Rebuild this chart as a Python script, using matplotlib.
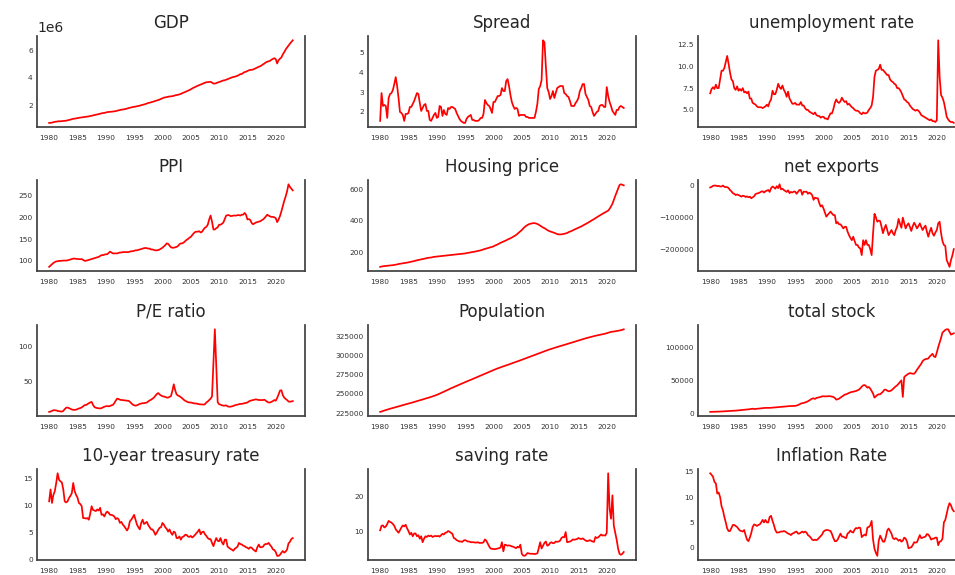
import numpy as np
import pandas as pd
import matplotlib
matplotlib.use('Agg')
import matplotlib.pyplot as plt
import matplotlib.dates as mdates

# quarterly observations, 1980Q1 .. 2023Q1
quarters = pd.date_range('1980-01-01', periods=173, freq='QS')
year_ticks = pd.to_datetime([f'{y}-01-01' for y in range(1980, 2021, 5)])

gdp = [  # units of 1e6
    0.70, 0.70, 0.72, 0.75, 0.78, 0.79, 0.81, 0.82,
    0.82, 0.83, 0.84, 0.85, 0.86, 0.89, 0.91, 0.94,
    0.97, 1.00, 1.01, 1.03, 1.05, 1.07, 1.09, 1.10,
    1.12, 1.13, 1.15, 1.16, 1.18, 1.20, 1.22, 1.25,
    1.27, 1.30, 1.32, 1.34, 1.37, 1.40, 1.42, 1.43,
    1.46, 1.49, 1.50, 1.51, 1.52, 1.53, 1.55, 1.56,
    1.59, 1.62, 1.64, 1.67, 1.68, 1.70, 1.72, 1.75,
    1.78, 1.81, 1.83, 1.86, 1.88, 1.89, 1.92, 1.94,
    1.96, 2.00, 2.02, 2.05, 2.08, 2.12, 2.16, 2.18,
    2.21, 2.24, 2.27, 2.31, 2.34, 2.37, 2.41, 2.46,
    2.50, 2.55, 2.57, 2.59, 2.61, 2.64, 2.64, 2.66,
    2.68, 2.72, 2.74, 2.76, 2.79, 2.82, 2.88, 2.92,
    2.96, 3.01, 3.06, 3.10, 3.16, 3.21, 3.28, 3.32,
    3.38, 3.43, 3.46, 3.51, 3.55, 3.60, 3.64, 3.68,
    3.68, 3.70, 3.71, 3.65, 3.58, 3.58, 3.61, 3.66,
    3.69, 3.73, 3.77, 3.81, 3.82, 3.87, 3.90, 3.95,
    3.99, 4.03, 4.06, 4.08, 4.12, 4.15, 4.21, 4.27,
    4.28, 4.36, 4.42, 4.45, 4.50, 4.55, 4.58, 4.59,
    4.61, 4.66, 4.71, 4.76, 4.81, 4.85, 4.91, 4.99,
    5.05, 5.13, 5.18, 5.21, 5.25, 5.33, 5.39, 5.44,
    5.37, 5.05, 5.30, 5.40, 5.50, 5.72, 5.88, 6.08,
    6.22, 6.36, 6.50, 6.62, 6.75,
]

spread = [
    1.55, 2.95, 2.30, 2.35, 2.30, 1.70, 2.70, 2.90,
    2.95, 3.10, 3.40, 3.75, 3.30, 2.70, 2.00, 1.95,
    1.85, 1.55, 1.90, 1.90, 1.95, 2.25, 2.25, 2.40,
    2.55, 2.75, 2.95, 2.90, 2.45, 2.05, 2.20, 2.35,
    2.40, 2.05, 2.05, 1.60, 1.55, 1.70, 1.85, 1.95,
    1.70, 1.75, 2.30, 2.25, 1.80, 2.10, 1.90, 1.85,
    2.20, 2.15, 2.25, 2.25, 2.20, 2.15, 1.95, 1.80,
    1.65, 1.55, 1.50, 1.45, 1.45, 1.65, 1.75, 1.80,
    1.85, 1.60, 1.60, 1.55, 1.55, 1.55, 1.60, 1.70,
    1.70, 1.90, 2.60, 2.45, 2.35, 2.30, 2.15, 1.95,
    2.50, 2.50, 2.65, 2.80, 2.80, 2.85, 3.20, 3.05,
    3.05, 3.55, 3.65, 3.30, 2.85, 2.50, 2.30, 2.15,
    2.20, 2.15, 1.80, 1.85, 1.85, 1.85, 1.85, 1.75,
    1.75, 1.70, 1.70, 1.70, 1.70, 1.70, 2.00, 2.40,
    3.15, 3.30, 3.60, 5.60, 5.50, 4.30, 3.20, 3.00,
    2.65, 2.80, 3.05, 2.70, 2.95, 3.20, 3.25, 3.30,
    3.30, 3.30, 2.95, 2.90, 2.80, 2.75, 2.55, 2.30,
    2.30, 2.30, 2.45, 2.55, 2.70, 3.05, 3.20, 3.40,
    3.40, 2.90, 2.75, 2.60, 2.30, 2.25, 2.00, 1.80,
    1.90, 2.00, 2.05, 2.30, 2.35, 2.35, 2.25, 2.25,
    3.25, 2.80, 2.50, 2.30, 2.05, 1.95, 1.85, 2.10,
    2.10, 2.25, 2.30, 2.25, 2.20,
]

unemployment = [
    6.9, 7.4, 7.6, 7.4, 7.9, 7.5, 7.5, 8.5,
    9.5, 9.5, 9.8, 10.5, 11.2, 10.3, 9.3, 8.5,
    8.3, 7.5, 7.3, 7.7, 7.2, 7.4, 7.2, 7.5,
    7.0, 7.1, 6.9, 7.1, 6.3, 6.3, 5.8, 5.7,
    5.6, 5.4, 5.3, 5.3, 5.3, 5.2, 5.3, 5.4,
    5.6, 5.4, 5.9, 6.2, 7.2, 6.8, 6.8, 7.3,
    8.0, 7.6, 7.4, 7.8, 7.3, 7.0, 6.5, 7.1,
    6.3, 6.0, 5.7, 5.7, 5.8, 5.6, 5.6, 5.6,
    5.9, 5.5, 5.5, 5.2, 5.0, 5.0, 4.8, 4.7,
    4.6, 4.5, 4.7, 4.4, 4.3, 4.3, 4.1, 4.2,
    4.2, 4.0, 4.0, 3.9, 4.3, 4.6, 4.6, 5.1,
    5.8, 6.2, 5.9, 5.8, 6.0, 6.4, 6.1, 5.9,
    6.0, 5.6, 5.7, 5.5, 5.3, 5.2, 5.0, 4.9,
    4.9, 4.8, 4.6, 4.5, 4.7, 4.6, 4.6, 4.7,
    5.0, 5.2, 5.5, 6.5, 8.8, 9.5, 9.6, 9.7,
    10.2, 9.6, 9.6, 9.4, 9.2, 9.0, 9.0, 8.5,
    8.3, 8.2, 8.0, 7.9, 7.5, 7.5, 7.3, 7.0,
    6.6, 6.2, 6.1, 5.9, 5.8, 5.5, 5.3, 5.1,
    5.0, 4.9, 5.0, 4.9, 4.7, 4.4, 4.3, 4.2,
    4.1, 4.0, 3.9, 3.8, 3.9, 3.7, 3.7, 3.6,
    3.8, 13.0, 8.8, 6.7, 6.4, 5.9, 5.1, 4.2,
    3.9, 3.7, 3.6, 3.6, 3.5,
]

ppi = [
    86, 89, 92, 95, 97, 98.5, 99, 99.5,
    100, 100, 100.5, 100.5, 100.5, 101, 102, 103,
    104, 105, 105, 104.5, 104, 104, 103.5, 104,
    102, 100, 100, 101, 102, 103, 104, 105,
    106, 107, 108, 109, 111, 113, 113, 114,
    115, 115, 118, 121, 119, 117, 117, 117,
    117, 118, 119, 119, 120, 120, 120, 120,
    120, 121, 122, 122, 123, 124, 124, 125,
    126, 127, 128, 129, 129.5, 129, 128, 128,
    126, 126, 125, 124, 124, 124.5, 126, 128,
    130, 133, 136, 140, 139, 135, 131, 130,
    130, 131, 132, 134, 138, 140, 140, 142,
    145, 148, 150, 153, 155, 159, 163, 166,
    167, 167, 168, 165, 167, 172, 176, 178,
    183, 195, 204, 190, 172, 172, 175, 177,
    183, 183, 185, 188, 196, 204, 205, 205,
    203, 203, 204, 204, 204, 205, 205, 204,
    206, 206, 210, 206, 195, 196, 194, 187,
    184, 186, 188, 189, 190, 191, 193, 195,
    198, 202, 206, 204, 202, 201, 201, 200,
    198, 189, 195, 203, 214, 226, 238, 248,
    260, 276, 270, 266, 262,
]

housing = [
    106, 108, 110, 111, 112, 113, 114, 115,
    116, 117, 118, 120, 122, 124, 126, 127,
    129, 130, 132, 133, 135, 137, 139, 141,
    143, 146, 148, 150, 152, 154, 156, 158,
    160, 162, 164, 165, 166, 168, 170, 171,
    172, 173, 174, 175, 176, 177, 178, 179,
    180, 181, 182, 183, 184, 185, 186, 187,
    188, 189, 190, 191, 192, 194, 196, 197,
    199, 201, 202, 204, 206, 208, 210, 212,
    215, 218, 221, 224, 226, 229, 232, 234,
    237, 242, 246, 250, 255, 260, 264, 268,
    272, 276, 281, 285, 289, 294, 299, 304,
    310, 318, 326, 334, 342, 352, 361, 368,
    374, 379, 382, 384, 386, 386, 384, 381,
    376, 370, 364, 358, 354, 348, 342, 337,
    333, 330, 327, 324, 320, 316, 314, 314,
    314, 316, 318, 320, 323, 328, 332, 335,
    340, 344, 348, 352, 356, 361, 365, 370,
    375, 380, 385, 390, 396, 402, 407, 412,
    418, 424, 430, 435, 440, 446, 451, 456,
    461, 466, 478, 493, 510, 535, 560, 583,
    605, 630, 635, 632, 628,
]

net_exports = [  # thousands
    -6, -4, -1, 0, 0, -2, -1, -3,
    -3, 0, -4, -5, -5, -8, -14, -18,
    -24, -26, -30, -28, -30, -32, -35, -32,
    -33, -36, -34, -37, -35, -40, -37, -34,
    -27, -25, -24, -22, -19, -18, -22, -18,
    -16, -14, -20, -8, -3, -6, -10, -2,
    -8, 4, -12, -10, -14, -17, -20, -15,
    -24, -20, -22, -19, -19, -26, -20, -14,
    -14, -29, -19, -20, -19, -26, -22, -25,
    -30, -45, -38, -40, -40, -55, -66, -62,
    -72, -85, -98, -92, -87, -82, -88, -93,
    -93, -119, -115, -122, -122, -128, -135, -130,
    -130, -145, -156, -165, -172, -161, -175, -187,
    -187, -195, -198, -219, -172, -187, -172, -187,
    -187, -200, -219, -150, -89, -100, -114, -110,
    -112, -130, -150, -135, -124, -140, -156, -148,
    -140, -150, -156, -140, -130, -105, -120, -133,
    -101, -118, -135, -125, -119, -130, -143, -128,
    -117, -125, -135, -128, -119, -130, -140, -132,
    -126, -145, -161, -145, -133, -150, -158, -148,
    -140, -119, -114, -150, -175, -187, -190, -235,
    -245, -256, -235, -220, -200,
]

pe_ratio = [
    7.1, 7.5, 8.5, 9.5, 9.5, 9.2, 8.5, 8.0,
    7.8, 7.5, 8.5, 11.0, 13.0, 13.3, 12.5, 11.5,
    10.5, 10.0, 10.0, 10.3, 11.0, 12.0, 12.5, 13.5,
    15.0, 16.7, 17.0, 18.0, 19.5, 20.5, 21.4, 17.0,
    14.0, 13.0, 12.5, 12.2, 12.0, 12.5, 13.5, 14.5,
    15.0, 15.5, 15.0, 15.5, 16.5, 17.0, 19.5, 23.0,
    26.0, 25.5, 24.5, 24.0, 24.0, 23.5, 23.5, 23.0,
    23.0, 21.5, 19.5, 17.5, 16.5, 16.0, 16.5, 17.5,
    18.5, 19.0, 19.5, 19.5, 20.0, 20.5, 22.0, 23.5,
    24.5, 26.0, 27.5, 30.0, 32.5, 34.0, 32.0, 30.5,
    29.5, 29.0, 28.5, 27.5, 27.5, 28.5, 29.5, 37.0,
    46.5, 38.0, 32.0, 30.5, 29.5, 28.0, 26.5, 24.5,
    23.0, 22.0, 21.0, 20.5, 20.5, 20.0, 19.5, 19.0,
    19.0, 18.5, 18.0, 17.8, 17.5, 17.5, 18.0, 20.5,
    22.0, 24.0, 26.0, 29.0, 77.0, 125.0, 73.0, 21.0,
    18.0, 17.5, 16.5, 16.0, 16.0, 16.5, 15.0, 14.5,
    14.5, 15.0, 15.5, 16.5, 17.0, 17.5, 18.0, 18.5,
    18.5, 19.0, 19.5, 20.0, 20.5, 22.0, 23.0, 23.5,
    24.0, 24.5, 25.0, 24.5, 24.0, 24.0, 24.0, 24.0,
    24.5, 23.0, 21.5, 20.5, 20.5, 21.5, 22.5, 24.0,
    23.0, 27.0, 32.0, 37.5, 38.0, 31.0, 27.5, 25.5,
    24.0, 22.0, 21.5, 22.0, 22.5,
]

population = [  # millions
    226.5, 227.0, 227.7, 228.3, 228.9, 229.4, 230.0, 230.6,
    231.1, 231.6, 232.2, 232.7, 233.2, 233.7, 234.3, 234.8,
    235.3, 235.8, 236.3, 236.8, 237.3, 237.8, 238.4, 239.0,
    239.5, 240.0, 240.6, 241.2, 241.7, 242.2, 242.8, 243.4,
    243.9, 244.5, 245.0, 245.6, 246.2, 246.8, 247.4, 248.1,
    248.8, 249.6, 250.5, 251.3, 252.1, 253.0, 253.9, 254.8,
    255.6, 256.5, 257.4, 258.2, 259.1, 259.9, 260.7, 261.5,
    262.3, 263.1, 263.9, 264.7, 265.5, 266.3, 267.1, 267.9,
    268.6, 269.4, 270.2, 271.0, 271.8, 272.6, 273.4, 274.3,
    275.1, 275.9, 276.7, 277.5, 278.2, 279.0, 279.8, 280.6,
    281.4, 282.2, 282.9, 283.6, 284.3, 285.0, 285.6, 286.3,
    286.9, 287.6, 288.2, 288.8, 289.5, 290.1, 290.8, 291.5,
    292.1, 292.8, 293.5, 294.1, 294.8, 295.5, 296.2, 297.0,
    297.7, 298.4, 299.1, 299.8, 300.5, 301.2, 301.9, 302.7,
    303.4, 304.1, 304.8, 305.4, 306.1, 306.8, 307.4, 308.1,
    308.7, 309.3, 309.9, 310.5, 311.0, 311.6, 312.2, 312.8,
    313.3, 313.9, 314.4, 315.0, 315.5, 316.1, 316.7, 317.2,
    317.8, 318.4, 319.0, 319.5, 320.1, 320.7, 321.3, 321.8,
    322.4, 323.0, 323.5, 324.0, 324.6, 325.1, 325.6, 326.0,
    326.4, 326.8, 327.2, 327.6, 327.9, 328.3, 328.7, 329.2,
    329.8, 330.5, 331.1, 331.5, 331.7, 332.0, 332.3, 332.6,
    333.0, 333.3, 333.7, 334.2, 334.9,
]

total_stock = [  # thousands
    2.5, 2.6, 2.7, 2.7, 2.8, 2.8, 2.9, 3.0,
    3.0, 3.1, 3.2, 3.4, 3.6, 3.8, 3.9, 4.0,
    4.1, 4.3, 4.4, 4.6, 4.8, 5.0, 5.2, 5.4,
    5.6, 5.8, 6.0, 6.3, 6.6, 6.9, 7.3, 6.8,
    6.9, 7.2, 7.4, 7.6, 7.8, 8.1, 8.4, 8.5,
    8.5, 8.6, 8.5, 8.7, 8.9, 9.1, 9.3, 9.5,
    9.7, 9.9, 10.1, 10.3, 10.5, 10.7, 10.9, 11.1,
    11.2, 11.3, 11.4, 11.5, 11.6, 12.0, 12.8, 13.8,
    15.0, 15.6, 16.0, 16.7, 17.5, 18.5, 19.8, 21.0,
    22.5, 23.0, 22.0, 23.5, 24.0, 24.5, 25.0, 26.0,
    26.0, 25.8, 26.0, 26.0, 26.2, 26.0, 25.5, 25.0,
    23.5, 21.0, 21.5, 22.5, 24.0, 25.5, 27.0, 28.5,
    29.0, 30.0, 31.0, 32.0, 32.5, 33.0, 33.5, 34.0,
    35.0, 36.0, 38.0, 40.5, 42.5, 43.0, 41.5, 39.0,
    40.0, 37.5, 34.0, 30.0, 24.0, 26.0, 28.0, 29.0,
    29.0, 31.0, 33.0, 36.0, 36.0, 34.5, 33.5, 34.0,
    35.0, 37.0, 39.0, 41.0, 42.5, 45.0, 47.5, 50.0,
    25.0, 55.0, 57.0, 58.5, 60.0, 61.0, 60.5, 60.0,
    60.0, 62.5, 66.0, 69.0, 72.0, 75.0, 79.0, 81.0,
    82.0, 82.5, 83.0, 86.0, 88.0, 90.0, 86.0, 85.0,
    92.0, 100.0, 107.0, 114.0, 122.0, 124.0, 126.0, 127.0,
    127.0, 123.0, 119.0, 120.0, 121.0,
]

treasury_10y = [
    10.8, 13.0, 10.5, 12.0, 12.7, 14.2, 16.0, 14.8,
    14.5, 14.3, 13.0, 10.8, 10.6, 10.8, 11.4, 11.8,
    12.3, 14.2, 12.7, 12.0, 11.5, 10.5, 10.3, 9.9,
    7.7, 7.7, 7.6, 7.7, 7.4, 8.5, 9.9, 9.2,
    9.1, 9.0, 9.3, 9.1, 9.6, 8.3, 8.4, 8.0,
    8.6, 8.9, 8.7, 8.3, 8.3, 8.2, 8.0, 7.5,
    7.7, 7.5, 6.8, 7.0, 6.5, 6.2, 5.8, 5.4,
    5.9, 7.1, 7.4, 7.8, 8.3, 7.4, 6.5, 6.0,
    5.6, 6.8, 7.4, 6.6, 6.8, 7.0, 6.4, 6.0,
    5.6, 5.6, 5.2, 4.6, 5.0, 5.5, 5.9, 6.0,
    6.8, 6.5, 6.0, 5.7, 5.2, 5.6, 5.0, 4.6,
    5.2, 5.0, 4.0, 4.0, 4.3, 3.7, 4.2, 4.3,
    4.6, 4.6, 4.3, 4.2, 4.4, 4.1, 4.3, 4.6,
    4.9, 5.2, 5.6, 4.7, 5.1, 5.2, 4.7, 4.4,
    4.0, 3.8, 3.8, 3.1, 2.5, 3.3, 4.0, 3.5,
    3.4, 4.0, 3.2, 2.8, 3.7, 3.7, 2.4, 2.2,
    2.0, 1.85, 1.65, 2.0, 2.2, 2.4, 3.1, 2.9,
    2.8, 2.6, 2.5, 2.3, 2.2, 2.0, 2.3, 2.2,
    1.9, 1.7, 1.5, 2.3, 2.8, 2.3, 2.3, 2.4,
    2.8, 2.9, 2.9, 3.1, 2.7, 2.4, 1.9, 1.8,
    1.4, 0.7, 0.7, 0.9, 1.3, 1.6, 1.3, 1.5,
    1.9, 3.0, 3.3, 3.8, 4.0,
]

saving_rate = [
    10.2, 11.5, 11.6, 11.0, 11.3, 12.0, 12.9, 12.6,
    12.4, 12.0, 11.5, 10.5, 10.0, 9.5, 10.2, 11.0,
    11.6, 11.3, 11.8, 10.8, 10.0, 9.0, 9.5, 8.5,
    9.3, 9.3, 8.5, 8.8, 7.8, 8.5, 6.8, 7.8,
    8.5, 8.3, 8.7, 8.5, 8.7, 8.3, 8.5, 8.6,
    8.5, 8.6, 8.4, 8.8, 9.2, 9.0, 9.5, 9.6,
    10.0, 9.8, 9.5, 9.2, 8.0, 7.8, 7.4, 7.2,
    7.0, 7.0, 6.9, 7.3, 7.4, 7.2, 7.0, 7.0,
    6.8, 6.8, 6.8, 6.7, 6.7, 6.8, 6.6, 6.6,
    6.6, 6.8, 7.6, 7.2, 6.4, 5.6, 5.0, 4.9,
    4.9, 4.8, 4.9, 5.0, 5.1, 5.3, 6.8, 4.2,
    6.1, 6.0, 5.8, 5.9, 5.8, 5.6, 5.5, 5.3,
    5.1, 5.5, 5.3, 6.1, 3.5, 3.0, 2.9, 3.2,
    3.7, 3.6, 3.5, 3.5, 3.5, 3.4, 3.5, 3.6,
    5.1, 6.8, 5.0, 5.8, 6.6, 7.0, 5.8, 6.0,
    6.6, 6.8, 6.5, 6.6, 7.0, 6.9, 7.0, 7.2,
    8.0, 8.3, 8.2, 9.7, 6.8, 6.9, 7.0, 7.2,
    7.6, 7.5, 7.6, 7.7, 8.0, 7.8, 7.7, 7.9,
    7.6, 7.3, 7.1, 7.2, 7.4, 7.2, 7.0, 6.9,
    8.3, 8.0, 8.2, 8.6, 9.0, 8.7, 8.8, 8.7,
    9.5, 26.5, 16.5, 13.5, 20.2, 11.5, 9.5, 7.5,
    5.0, 3.5, 3.2, 3.5, 4.0,
]

inflation = [
    14.7, 14.4, 14.0, 13.0, 12.7, 10.7, 10.9, 10.0,
    8.2, 7.4, 6.1, 5.0, 3.8, 3.3, 3.3, 3.9,
    4.5, 4.5, 4.3, 4.1, 3.7, 3.4, 3.3, 3.2,
    3.5, 2.5, 1.6, 1.3, 2.0, 2.9, 4.1, 4.6,
    4.5, 4.3, 4.5, 4.6, 5.0, 5.5, 5.0, 5.5,
    5.0, 5.0, 6.1, 6.3, 5.3, 4.5, 3.5, 3.0,
    3.0, 3.1, 3.2, 3.2, 3.3, 3.2, 3.0, 2.8,
    2.7, 2.5, 2.8, 2.9, 3.1, 3.2, 2.8, 2.8,
    3.0, 3.2, 3.0, 3.2, 3.0, 2.5, 2.3, 2.0,
    1.6, 1.5, 1.6, 1.5, 1.7, 2.0, 2.3, 2.6,
    3.2, 3.4, 3.5, 3.5, 3.4, 3.3, 2.7, 1.9,
    1.3, 1.3, 1.6, 2.2, 2.8, 2.2, 2.2, 2.0,
    1.9, 2.8, 3.0, 3.4, 3.1, 3.0, 3.6, 3.9,
    3.8, 4.0, 3.9, 2.1, 2.4, 2.6, 2.4, 4.0,
    4.1, 4.4, 5.3, 1.6, -0.2, -1.0, -1.6, 1.4,
    2.4, 1.8, 1.2, 1.2, 2.1, 3.4, 3.8, 3.3,
    2.8, 1.9, 1.7, 1.9, 1.7, 1.4, 1.6, 1.2,
    1.4, 2.0, 1.8, 1.2, -0.1, 0.0, 0.1, 0.5,
    1.1, 1.0, 1.1, 1.8, 2.5, 1.9, 2.0, 2.1,
    2.2, 2.7, 2.6, 2.2, 1.6, 1.8, 1.8, 2.0,
    2.0, 0.5, 1.2, 1.3, 1.8, 5.0, 5.5, 6.7,
    8.0, 8.8, 8.4, 7.6, 7.2,
]

titles = ['GDP', 'Spread', 'unemployment rate',
          'PPI', 'Housing price', 'net exports',
          'P/E ratio', 'Population', 'total stock',
          '10-year treasury rate', 'saving rate', 'Inflation Rate']

series = [np.array(gdp) * 1e6, spread, unemployment,
          ppi, housing, np.array(net_exports) * 1000,
          pe_ratio, np.array(population) * 1000, np.array(total_stock) * 1000,
          treasury_10y, saving_rate, inflation]

yticks = [[2e6, 4e6, 6e6], [2, 3, 4, 5], [5.0, 7.5, 10.0, 12.5],
          [100, 150, 200, 250], [200, 400, 600], [-200000, -100000, 0],
          [50, 100], [225000, 250000, 275000, 300000, 325000], [0, 50000, 100000],
          [0, 5, 10, 15], [10, 20], [0, 5, 10, 15]]

fig = plt.figure(figsize=(9.55, 5.75), dpi=100)
lefts = [0.0387, 0.3853, 0.7309]
bottoms = [0.7791, 0.5287, 0.2765, 0.0261]
width, height = 0.2806, 0.158

for i in range(12):
    ax = fig.add_axes([lefts[i % 3], bottoms[i // 3], width, height])
    ax.plot(quarters, series[i], color='red', linewidth=1.25)
    ax.set_title(titles[i], fontsize=12, color='.15', pad=6)
    ax.set_yticks(yticks[i])
    ax.set_xticks(year_ticks)
    ax.xaxis.set_major_formatter(mdates.DateFormatter('%Y'))
    ax.tick_params(axis='both', length=0, labelsize=5.3, labelcolor='.2')
    ax.tick_params(axis='x', pad=6)
    ax.tick_params(axis='y', pad=3)
    ax.yaxis.get_offset_text().set_fontsize(10)
    ax.yaxis.get_offset_text().set_color('.15')
    ax.spines['top'].set_visible(False)
    for side in ['left', 'right', 'bottom']:
        ax.spines[side].set_color('.25')
        ax.spines[side].set_linewidth(1.25)

fig.savefig('out.png', dpi=100)
